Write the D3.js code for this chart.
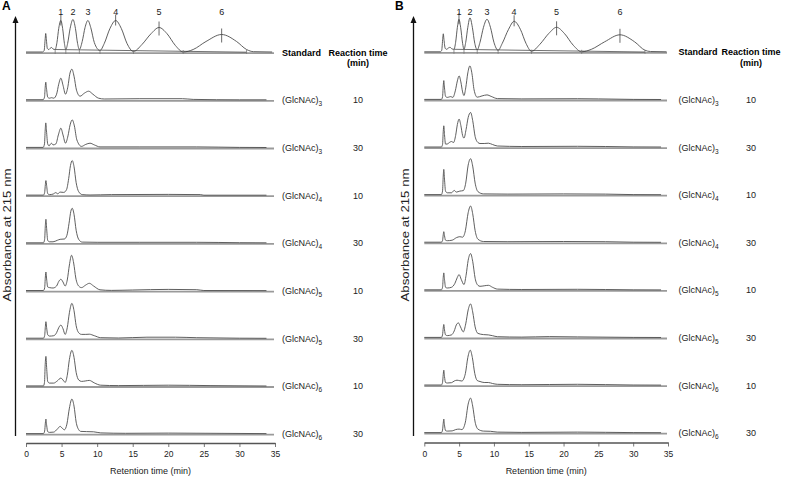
<!DOCTYPE html>
<html><head><meta charset="utf-8">
<script src="https://cdn.jsdelivr.net/npm/d3@7"></script>
<style>
html,body{margin:0;padding:0;background:#fff;}
svg{display:block;font-family:"Liberation Sans",Arial,sans-serif;}
</style></head><body>
<svg id="chart" width="787" height="477"></svg>
<script>
// ---------- DATA ----------
const timeTicks = [0, 5, 10, 15, 20, 25, 30, 35];
const minorTimeTicks = [0,1,2,3,4,5,6,7,8,9,10,11,12,13,14,15,16,17,18,19,20,21,22,23,24,25,26,27,28,29,30,31,32,33,34,35];
const panelLetters = ["A", "B"];
const peakNumbers = ["1", "2", "3", "4", "5", "6"];
const peakTimesA = [4.9, 6.6, 8.7, 12.6, 18.7, 27.5];
const peakHeightsA = [32, 33, 32, 32, 25, 18];
const peakTimesB = [4.98, 6.56, 9.0, 12.9, 19.0, 28.1];
const peakHeightsB = [33, 34.5, 33, 31, 25, 17.5];
const markedPeaks = [0, 3, 4, 5];
const valleysA = [4.1, 5.6, 7.5, 10.4, 15.1, 22.1, 31.0];
const valleysB = [4.26, 5.7, 7.6, 10.6, 15.4, 22.6, 31.7];
const integrationA = [[4.1, 3], [31.0, 0.3]];
const integrationB = [[4.26, 3], [31.7, 0.3]];
const substrateDP = ["3", "3", "4", "4", "5", "5", "6", "6"];
const reactionTimes = ["10", "30", "10", "30", "10", "30", "10", "30"];

// Panel A traces: [retention time (min), absorbance (a.u.)]
const stdA = [[0,0.5],[2.3,0.5],[2.55,2],[2.7,14],[2.77,19],[2.85,14],[3.0,4],[3.2,3],[3.45,4.5],[3.6,5],[3.8,3.5],[4.1,3],[4.35,10],[4.6,24],[4.9,32],[5.15,24],[5.4,9],[5.6,3],[5.85,9],[6.2,24],[6.6,33],[6.95,24],[7.25,9],[7.5,3],[7.9,11],[8.3,25],[8.7,32],[9.1,25],[9.6,10],[10.4,2],[11.0,9],[11.8,24],[12.6,32],[13.4,24],[14.2,9],[15.1,1],[16.3,8],[17.6,19],[18.7,25],[19.8,19],[21.0,7],[22.1,0.5],[23.5,3],[25.3,11],[27.5,18],[29.6,11],[31.0,3],[32,0.8],[34.6,0.5]];
const a1 = [[0,0.5],[2.4,0.5],[2.6,3],[2.7,13],[2.78,18],[2.88,12],[3.05,3],[3.3,2],[3.6,2.5],[3.9,2],[4.3,6],[4.6,16],[4.9,22],[5.2,15],[5.55,6],[5.9,14],[6.15,26],[6.45,31],[6.75,24],[7.1,10],[7.6,4],[8.2,7],[8.8,9],[9.4,6],[10.2,2],[11,1.2],[16,1.5],[22,1.5],[23.5,0.8],[30,0.4],[33.8,0.4]];
const a2 = [[0,0.5],[2.4,0.5],[2.6,4],[2.7,18],[2.78,25],[2.88,17],[3.05,4],[3.25,2],[3.45,4],[3.6,4.6],[3.8,3],[4.2,4],[4.55,13],[4.9,19.7],[5.2,13],[5.55,4.7],[5.9,12],[6.2,23],[6.5,28],[6.8,22],[7.15,8],[7.8,1.5],[8.4,3.5],[9.0,4.7],[9.6,3],[10.4,1],[16,1],[24,1],[30,0.5],[33.8,0.4]];
const a3 = [[0,0.5],[2.45,0.5],[2.62,3],[2.72,11],[2.8,15],[2.9,10],[3.05,2],[3.3,1],[3.8,1.5],[4.2,3],[4.45,1.8],[4.8,3.5],[5.3,3.2],[5.7,6],[6.0,17],[6.25,30],[6.5,35],[6.75,29],[7.05,13],[7.4,4],[7.9,1],[9,0.6],[12,1],[20,1.2],[24.5,1],[25,0.4],[33.8,0.4]];
const a4 = [[0,0.5],[2.45,0.5],[2.62,4],[2.72,18],[2.8,24],[2.9,15],[3.05,3],[3.3,1.5],[3.8,1.5],[4.4,3],[4.8,4],[5.4,4.3],[5.75,8],[6.05,20],[6.3,32],[6.5,35],[6.75,29],[7.05,13],[7.4,4],[7.9,1.2],[10,1],[16,1],[24,1],[30,0.6],[33.8,0.5]];
const a5 = [[0,0.5],[2.45,0.5],[2.62,3],[2.72,14],[2.8,19],[2.9,12],[3.05,4],[3.3,3.4],[3.8,3],[4.3,5],[4.6,9.5],[4.9,11.7],[5.2,9],[5.5,5],[5.8,11],[6.1,26],[6.4,35.7],[6.7,28],[7.0,13],[7.4,5],[7.8,3.4],[8.4,6],[8.9,7.7],[9.5,5],[10.4,1.2],[12,0.6],[15,1],[20,1.6],[24,1.3],[25,0.5],[33.8,0.4]];
const a6 = [[0,0.5],[2.45,0.5],[2.62,3],[2.72,12],[2.8,17],[2.9,11],[3.05,4],[3.3,2.6],[3.9,3],[4.3,6],[4.6,11],[4.9,13.6],[5.2,10],[5.5,4.3],[5.8,11],[6.1,26],[6.45,35.3],[6.75,28],[7.05,13],[7.4,6],[7.8,4.3],[8.4,4.3],[8.9,4.5],[9.6,3],[10.5,1],[13,0.7],[17,1.5],[21,1.5],[24,1],[30,0.5],[33.8,0.4]];
const a7 = [[0,0.5],[2.45,0.5],[2.6,4],[2.7,22],[2.8,30],[2.9,19],[3.05,5],[3.3,3.3],[3.9,3.3],[4.4,5.5],[4.9,8.3],[5.3,5.5],[5.5,4],[5.8,11],[6.1,27],[6.45,36],[6.75,29],[7.05,14],[7.4,6.5],[7.8,5],[8.4,5.5],[8.9,6],[9.6,3.5],[10.5,1.2],[13,0.8],[20,1.2],[26,0.8],[33.8,0.4]];
const a8 = [[0,0.5],[2.45,0.5],[2.62,3],[2.72,11],[2.8,15],[2.9,9],[3.05,2.5],[3.3,1.7],[3.9,2],[4.4,5],[4.8,7.7],[5.15,5.5],[5.4,4.3],[5.75,10],[6.1,26],[6.45,35],[6.75,28],[7.05,12],[7.4,4.5],[7.7,2.7],[8.5,2.5],[9.5,2.3],[10.5,1.2],[14,0.8],[20,1],[26,0.8],[33.8,0.5]];

// Panel B traces
const stdB = [[0,0.5],[2.3,0.5],[2.5,2],[2.65,14],[2.73,18.5],[2.82,13],[3.0,4],[3.2,3],[3.5,4.5],[3.7,5],[3.95,3.5],[4.26,3],[4.5,10],[4.75,25],[4.98,33],[5.22,25],[5.5,9],[5.7,3],[5.95,10],[6.25,25],[6.56,34.5],[6.9,25],[7.25,9],[7.6,2.5],[8.0,10],[8.5,25],[9.0,33],[9.5,25],[10.0,10],[10.6,2],[11.2,9],[12.1,23],[12.9,31],[13.8,23],[14.6,9],[15.4,1],[16.6,8],[17.9,19],[19.0,25],[20.1,19],[21.4,7],[22.6,0.5],[24.0,3],[25.9,10.5],[28.1,17.5],[30.2,10.5],[31.7,2],[32.5,0.8],[34.8,0.5]];
const b1 = [[0,0.5],[2.45,0.5],[2.62,3],[2.72,14],[2.8,19.3],[2.9,12],[3.05,3.5],[3.3,2.5],[3.6,3],[3.8,3.3],[4.1,2.5],[4.45,9],[4.75,19],[5.0,24],[5.25,18],[5.5,8],[5.7,4.3],[5.95,12],[6.25,27],[6.55,34],[6.85,26],[7.15,10],[7.6,2.7],[8.3,4],[9.0,5],[9.6,3.5],[10.5,1.3],[14,1],[22,1.2],[25,1],[30,0.5],[34,0.4]];
const b2 = [[0,0.5],[2.45,0.5],[2.62,3],[2.72,16],[2.8,21.7],[2.9,13],[3.05,3.4],[3.3,3.5],[3.6,5],[3.9,6],[4.2,5],[4.5,12],[4.75,23],[5.0,28.4],[5.25,22],[5.5,12],[5.7,9.4],[6.0,18],[6.3,30],[6.65,35],[6.95,27],[7.3,11],[7.7,5],[8.0,4],[8.6,4],[9.2,4.3],[9.8,3],[10.5,1.5],[14,1],[22,1.2],[26,1],[30,0.6],[34,0.5]];
const b3 = [[0,0.5],[2.45,0.5],[2.62,4],[2.72,19],[2.8,25.7],[2.9,16],[3.05,4],[3.3,2.3],[3.9,2.3],[4.3,4.7],[4.6,3],[5.1,4],[5.6,4.5],[5.95,12],[6.3,30],[6.65,36.4],[6.95,29],[7.3,12],[7.7,3.5],[8.5,1.2],[12,1],[20,1.2],[26,1],[30,0.5],[34,0.4]];
const b4 = [[0,0.5],[2.45,0.5],[2.62,2],[2.72,8],[2.8,11],[2.9,7],[3.05,2.5],[3.3,2],[4.0,2.5],[4.6,5],[5.1,6],[5.5,5.5],[5.9,12],[6.3,30],[6.65,36.7],[6.95,29],[7.3,12],[7.7,3.5],[8.5,1.2],[12,1],[20,1.2],[26,1],[30,0.5],[34,0.4]];
const b5 = [[0,0.5],[2.45,0.5],[2.62,3],[2.72,13],[2.8,17.4],[2.9,11],[3.05,3],[3.3,2.3],[3.9,3],[4.4,7],[4.75,13],[5.0,15.7],[5.3,11],[5.7,5.7],[6.0,15],[6.3,30],[6.65,36.7],[6.95,29],[7.3,12],[7.7,5],[8.0,4],[8.6,4.5],[9.2,5],[9.8,3],[10.5,1.2],[14,0.8],[22,1],[30,0.5],[34,0.4]];
const b6 = [[0,0.5],[2.45,0.5],[2.62,3],[2.72,10],[2.8,13.4],[2.9,8],[3.05,3],[3.3,2.3],[3.9,3],[4.3,7],[4.6,13],[4.9,15],[5.2,11],[5.6,6],[5.95,14],[6.3,28],[6.65,34],[6.95,26],[7.3,11],[7.7,4.5],[8.5,3.3],[9.2,3],[9.8,2.2],[10.5,1.2],[14,0.8],[18,1.3],[22,1],[30,0.5],[34,0.4]];
const b7 = [[0,0.5],[2.45,0.5],[2.62,3],[2.72,11],[2.8,15.3],[2.9,9],[3.05,3],[3.3,2.5],[3.9,2.8],[4.3,4.5],[4.7,5.3],[5.1,4.8],[5.4,4.5],[5.9,12],[6.25,28],[6.6,35.3],[6.9,28],[7.25,12],[7.6,5],[8.0,4],[8.6,3],[9.2,3],[9.8,2],[10.5,1.2],[14,0.8],[22,1.2],[30,0.5],[34,0.4]];
const b8 = [[0,0.5],[2.45,0.5],[2.62,3],[2.72,10],[2.8,14],[2.9,8],[3.05,2.5],[3.3,2],[4.0,2.2],[4.5,3.5],[5.0,4],[5.4,3.5],[5.9,11],[6.3,29],[6.65,35],[6.95,27],[7.3,11],[7.7,4],[8.5,2],[9.5,1.8],[10.5,1],[14,0.7],[22,1],[30,0.5],[34,0.4]];

// ---------- LAYOUT ----------
const panels = [
  {letter: panelLetters[0], traces: [stdA, a1, a2, a3, a4, a5, a6, a7, a8],
   peakTimes: peakTimesA, peakHeights: peakHeightsA, valleys: valleysA, integ: integrationA,
   x0: 26, x1: 275, top: 52.5, step: 47.7, axisY: 443, arrowX: 15.5, ylabX: 7,
   labelX: 282, timeX: 358, letterX: 2},
  {letter: panelLetters[1], traces: [stdB, b1, b2, b3, b4, b5, b6, b7, b8],
   peakTimes: peakTimesB, peakHeights: peakHeightsB, valleys: valleysB, integ: integrationB,
   x0: 424.3, x1: 668, top: 52.3, step: 47.6, axisY: 442.5, arrowX: 413.5, ylabX: 405,
   labelX: 678.5, timeX: 751, letterX: 395}
];

const svg = d3.select("#chart");
const yScale = d3.scaleLinear().domain([0, 40]).range([0, -40]);

panels.forEach(p => {
  const g = svg.append("g");
  const x = d3.scaleLinear().domain([0, 35]).range([p.x0, p.x1]);
  const rowY = i => p.top + i * p.step;
  const line = d3.line().x(d => x(d[0])).y(d => yScale(d[1])).curve(d3.curveMonotoneX);

  p.traces.forEach((tr, i) => {
    const rg = g.append("g").attr("transform", `translate(0,${rowY(i)})`);
    rg.append("line").attr("x1", x(0)).attr("x2", x(35) - 1)
      .attr("y1", 0.6).attr("y2", 0.6)
      .attr("stroke", "#9a9a9a").attr("stroke-width", 1.8);
    rg.append("path").datum(tr).attr("d", line)
      .attr("fill", "none").attr("stroke", "#4d4d4d").attr("stroke-width", 0.9)
      .attr("stroke-linejoin", "round");

    if (i === 0) {
      rg.append("text").attr("x", p.labelX).attr("y", 0)
        .attr("dominant-baseline", "central").attr("font-size", 9).attr("font-weight", "bold")
        .text("Standard");
      rg.append("text").attr("x", p.timeX).attr("y", 0)
        .attr("dominant-baseline", "central").attr("text-anchor", "middle")
        .attr("font-size", 9).attr("font-weight", "bold").text("Reaction time");
      rg.append("text").attr("x", p.timeX).attr("y", 10.5)
        .attr("dominant-baseline", "central").attr("text-anchor", "middle")
        .attr("font-size", 9).attr("font-weight", "bold").text("(min)");
      // integration baseline
      rg.append("path").datum(p.integ).attr("d", d3.line().x(d => x(d[0])).y(d => yScale(d[1])))
        .attr("stroke", "#333").attr("stroke-width", 0.7).attr("fill", "none");
      // valley markers
      rg.selectAll(".vm").data(p.valleys).join("line")
        .attr("x1", d => x(d)).attr("x2", d => x(d))
        .attr("y1", 1.5).attr("y2", -2.5)
        .attr("stroke", "#777").attr("stroke-width", 0.8);
      // apex markers
      rg.selectAll(".am").data(markedPeaks).join("line")
        .attr("x1", j => x(p.peakTimes[j])).attr("x2", j => x(p.peakTimes[j]))
        .attr("y1", j => yScale(p.peakHeights[j] + 6)).attr("y2", j => yScale(p.peakHeights[j] - (j >= 4 ? 8 : 5)))
        .attr("stroke", "#444").attr("stroke-width", 0.8);
    } else {
      const t = rg.append("text").attr("x", p.labelX).attr("y", 0)
        .attr("dominant-baseline", "central").attr("font-size", 9).attr("fill", "#222");
      t.append("tspan").text("(GlcNAc)");
      t.append("tspan").attr("font-size", 6.5).attr("dy", 3).text(substrateDP[i - 1]);
      rg.append("text").attr("x", p.timeX).attr("y", 0)
        .attr("dominant-baseline", "central").attr("text-anchor", "middle")
        .attr("font-size", 9).attr("fill", "#222").text(reactionTimes[i - 1]);
    }
  });

  // peak numbers
  g.selectAll(".pn").data(peakNumbers).join("text")
    .attr("x", (d, j) => x(p.peakTimes[j])).attr("y", 11.5)
    .attr("text-anchor", "middle").attr("dominant-baseline", "central")
    .attr("font-size", 9).attr("fill", "#222").text(d => d);

  // x axis
  const ax = g.append("g").attr("transform", `translate(0,${p.axisY})`);
  ax.call(d3.axisBottom(x).tickValues(minorTimeTicks).tickFormat("").tickSize(4).tickSizeOuter(0));
  ax.call(d3.axisBottom(x).tickValues(timeTicks).tickSize(4).tickSizeOuter(0).tickPadding(4));
  ax.selectAll("path.domain").attr("stroke", "#555").attr("stroke-width", 1.6);
  ax.selectAll(".tick line").attr("stroke", "#555").attr("stroke-width", 0.8);
  ax.selectAll(".tick text").attr("font-size", 8.5).attr("fill", "#222")
    .attr("font-family", '"Liberation Sans",Arial,sans-serif');
  g.append("text").attr("x", (p.x0 + p.x1) / 2).attr("y", 471)
    .attr("text-anchor", "middle").attr("dominant-baseline", "central")
    .attr("font-size", 9).attr("fill", "#222").text("Retention time (min)");

  // y arrow
  g.append("line").attr("x1", p.arrowX).attr("x2", p.arrowX)
    .attr("y1", 436).attr("y2", 21).attr("stroke", "#111").attr("stroke-width", 1.3);
  g.append("path")
    .attr("d", `M${p.arrowX},16 L${p.arrowX - 3},23 L${p.arrowX + 3},23 Z`)
    .attr("fill", "#111");
  g.append("text").attr("transform", `translate(${p.ylabX},235) rotate(-90)`)
    .attr("text-anchor", "middle").attr("dominant-baseline", "central")
    .attr("font-size", 10).attr("fill", "#222")
    .attr("textLength", 133).attr("lengthAdjust", "spacingAndGlyphs")
    .text("Absorbance at 215 nm");

  // panel letter
  g.append("text").attr("x", p.letterX).attr("y", 6).attr("dominant-baseline", "central")
    .attr("font-size", 12).attr("font-weight", "bold").text(p.letter);
});
</script>
</body></html>
